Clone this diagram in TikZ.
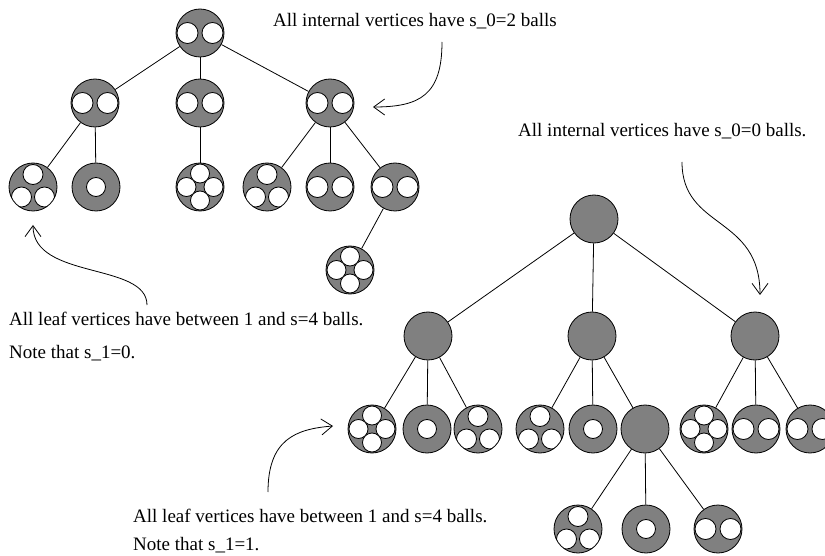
\documentclass[tikz,border=0pt]{standalone}
\usepackage{fontspec}
\setmainfont{Liberation Serif}
\usetikzlibrary{arrows.meta}
\begin{document}
\begin{tikzpicture}[x=1pt,y=-1pt]

    \tikzset{
      vertex/.style={
        circle,
        draw,
        fill=gray,
        line width=0.8pt,
        minimum size=48pt,
        inner sep=0pt,
      },
      ballline/.style={fill=white,line width=0.8pt},
      oneball/.style={vertex,path picture={
        \draw[ballline] (path picture bounding box.center) circle (9.5pt);
      }},
      twoballs/.style={vertex,path picture={
        \draw[ballline] ([xshift=-12.5pt]path picture bounding box.center) circle (10.5pt);
        \draw[ballline] ([xshift=12.5pt]path picture bounding box.center) circle (10.5pt);
      }},
      threeballs/.style={vertex,path picture={
        \draw[ballline] ([yshift=12.5pt]path picture bounding box.center) circle (10pt);
        \draw[ballline] ([xshift=-11.5pt,yshift=-10pt]path picture bounding box.center) circle (10pt);
        \draw[ballline] ([xshift=11.5pt,yshift=-10pt]path picture bounding box.center) circle (10pt);
      }},
      fourballs/.style={vertex,path picture={
        \draw[ballline] ([yshift=13.5pt]path picture bounding box.center) circle (9.5pt);
        \draw[ballline] ([yshift=-13.5pt]path picture bounding box.center) circle (9.5pt);
        \draw[ballline] ([xshift=-13.5pt]path picture bounding box.center) circle (9.5pt);
        \draw[ballline] ([xshift=13.5pt]path picture bounding box.center) circle (9.5pt);
      }},
      edge/.style={line width=0.8pt},
      note/.style={anchor=base west,inner sep=0pt,font=\fontsize{19}{22}\selectfont},
    }
    \useasboundingbox (0,0) rectangle (825,556);

	\node[twoballs] (a) at (200,33) {};
	\node[twoballs] (a1) at (95,103) {};
	\node[twoballs] (a2) at (200,103) {};
	\node[twoballs] (a3) at (330,103) {};
	\node[threeballs] (a11) at (33,187) {};
	\node[oneball] (a12) at (96,187) {};
	\node[fourballs] (a21) at (200,187) {};
	\node[threeballs] (a31) at (267,187) {};
	\node[twoballs] (a32) at (330,187) {};
	\node[twoballs] (a33) at (395,187) {};
	\node[fourballs] (a331) at (350,270) {};
	\draw[edge] (a)--(a1);
	\draw[edge] (a)--(a2);
	\draw[edge] (a)--(a3);
	\draw[edge] (a1)--(a11);
	\draw[edge] (a1)--(a12);
	\draw[edge] (a2)--(a21);
	\draw[edge] (a3)--(a31);
	\draw[edge] (a3)--(a32);
	\draw[edge] (a3)--(a33);
	\draw[edge] (a33)--(a331);

	\node[vertex] (b) at (594,219) {};
	\node[vertex] (b1) at (428,336) {};
	\node[vertex] (b2) at (592,336) {};
	\node[vertex] (b3) at (755,336) {};
	\node[fourballs] (b11) at (372,429) {};
	\node[oneball] (b12) at (427,429) {};
	\node[threeballs] (b13) at (478,429) {};
	\node[threeballs] (b21) at (540,429) {};
	\node[oneball] (b22) at (593,429) {};
	\node[vertex] (b23) at (645,429) {};
	\node[fourballs] (b31) at (704,429) {};
	\node[twoballs] (b32) at (756,429) {};
	\node[twoballs] (b33) at (810,429) {};
	\node[threeballs] (b231) at (578,529) {};
	\node[oneball] (b232) at (646,529) {};
	\node[twoballs] (b233) at (718,529) {};
	\draw[edge] (b)--(b1);
	\draw[edge] (b)--(b2);
	\draw[edge] (b)--(b3);
	\draw[edge] (b1)--(b11);
	\draw[edge] (b1)--(b12);
	\draw[edge] (b1)--(b13);
	\draw[edge] (b2)--(b21);
	\draw[edge] (b2)--(b22);
	\draw[edge] (b2)--(b23);
	\draw[edge] (b3)--(b31);
	\draw[edge] (b3)--(b32);
	\draw[edge] (b3)--(b33);
	\draw[edge] (b23)--(b231);
	\draw[edge] (b23)--(b232);
	\draw[edge] (b23)--(b233);

	\node[note] (t1) at (273,27) {All internal vertices have s\_0=2 balls};
	\node[note] (t2) at (518,137) {All internal vertices have s\_0=0 balls.};
	\node[note] (t3) at (9,325) {All leaf vertices have between 1 and s=4 balls.};
	\node[note] (t4) at (9,358) {Note that s\_1=0.};
	\node[note] (t5) at (133,522) {All leaf vertices have between 1 and s=4 balls.};
	\node[note] (t6) at (133,550) {Note that s\_1=1.};

	\coordinate (p1) at (442,42);
	\coordinate (q1) at (373,107);
	\coordinate (p2) at (682,162);
	\coordinate (q2) at (760,295);
	\coordinate (p3) at (147,305);
	\coordinate (q3) at (33,225);
	\coordinate (p4) at (268,492);
	\coordinate (q4) at (333,426);
	\draw[edge,>={Straight Barb[length=11pt,width=16pt]},->] (p1) .. controls (442,95) and (420,107) .. (q1);
	\draw[edge,>={Straight Barb[length=11pt,width=16pt]},->] (p2) .. controls (682,230) and (760,215) .. (q2);
	\draw[edge,>={Straight Barb[length=11pt,width=16pt]},->] (p3) .. controls (147,262) and (33,280) .. (q3);
	\draw[edge,>={Straight Barb[length=11pt,width=16pt]},->] (p4) .. controls (268,440) and (295,429) .. (q4);

\end{tikzpicture}
\end{document}
